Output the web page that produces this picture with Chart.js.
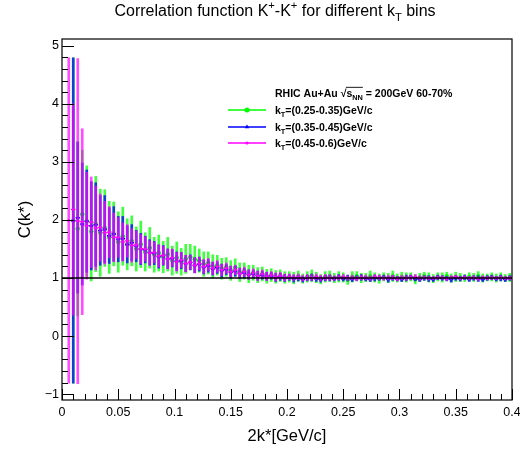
<!DOCTYPE html>
<html>
<head>
<meta charset="utf-8">
<script src="https://cdn.jsdelivr.net/npm/chart.js@4.4.0/dist/chart.umd.min.js"></script>
<style>
  body { margin: 0; background: #fff; }
</style>
</head>
<body>
<canvas id="chart" width="520" height="450"></canvas>
<script>
const FONT = '"Liberation Sans", Arial, Helvetica, sans-serif';

// histogram binning: 100 bins of 0.004 on [0, 0.4]
const binWidth = 0.004;
const xTicks = [0, 0.05, 0.1, 0.15, 0.2, 0.25, 0.3, 0.35, 0.4];
const yTicks = [-1, 0, 1, 2, 3, 4, 5];
const refLevel = 1;

const ktBins = ["(0.25-0.35)GeV/c", "(0.35-0.45)GeV/c", "(0.45-0.6)GeV/c"];

// kT = 0.25-0.35 (green)
const cGreen = [
  null, null, 1.99, 1.85, 2.10, 1.98, 1.80, 1.93, 1.78, 1.86,
  1.70, 1.76, 1.62, 1.72, 1.58, 1.64, 1.50, 1.58, 1.45, 1.52,
  1.40, 1.43, 1.36, 1.41, 1.30, 1.35, 1.28, 1.33, 1.36, 1.32,
  1.30, 1.24, 1.26, 1.20, 1.22, 1.16, 1.19, 1.13, 1.18, 1.10,
  1.12, 1.07, 1.09, 1.05, 1.07, 1.03, 1.05, 1.02, 1.04, 1.01,
  1.02, 1.00, 1.03, 0.99, 1.02, 1.04, 1.01, 0.98, 1.02, 1.03,
  1.00, 1.02, 1.01, 0.97, 1.02, 1.03, 1.00, 1.01, 1.03, 1.01,
  0.99, 1.02, 1.00, 1.03, 1.00, 1.02, 1.01, 1.02, 0.98, 1.01,
  1.03, 1.01, 0.99, 1.02, 1.01, 1.03, 1.00, 1.02, 1.01, 1.00,
  1.02, 1.01, 1.03, 1.00, 1.01, 1.02, 1.00, 1.02, 1.00, 1.01
];
const eGreen = [
  null, null, 2.80, 1.50, 1.10, 0.95, 0.85, 0.82, 0.75, 0.66,
  0.62, 0.55, 0.52, 0.50, 0.44, 0.43, 0.38, 0.40, 0.33, 0.35,
  0.30, 0.31, 0.27, 0.29, 0.25, 0.27, 0.23, 0.25, 0.22, 0.23,
  0.20, 0.21, 0.19, 0.20, 0.17, 0.18, 0.16, 0.17, 0.15, 0.16,
  0.14, 0.15, 0.13, 0.13, 0.12, 0.12, 0.11, 0.11, 0.10, 0.10,
  0.09, 0.10, 0.09, 0.08, 0.09, 0.10, 0.09, 0.08, 0.09, 0.09,
  0.08, 0.09, 0.08, 0.08, 0.09, 0.08, 0.08, 0.07, 0.09, 0.08,
  0.08, 0.07, 0.08, 0.09, 0.07, 0.08, 0.08, 0.07, 0.08, 0.07,
  0.07, 0.08, 0.07, 0.07, 0.08, 0.07, 0.07, 0.08, 0.07, 0.06,
  0.07, 0.07, 0.08, 0.07, 0.06, 0.07, 0.07, 0.07, 0.06, 0.07
];

// kT = 0.35-0.45 (blue)
const cBlue = [
  null, null, 1.99, 2.04, 1.93, 1.98, 1.90, 1.92, 1.82, 1.84,
  1.73, 1.76, 1.67, 1.68, 1.58, 1.61, 1.55, 1.50, 1.49, 1.44,
  1.43, 1.37, 1.39, 1.33, 1.34, 1.29, 1.30, 1.25, 1.27, 1.22,
  1.24, 1.19, 1.21, 1.16, 1.18, 1.13, 1.15, 1.10, 1.12, 1.08,
  1.09, 1.06, 1.07, 1.04, 1.05, 1.03, 1.04, 1.01, 1.02, 1.00,
  1.01, 0.99, 1.00, 0.98, 1.00, 1.01, 0.99, 0.98, 1.00, 1.00,
  0.99, 1.01, 0.99, 1.00, 0.98, 1.00, 1.01, 0.99, 0.98, 1.00,
  1.00, 1.01, 0.98, 1.00, 0.99, 0.98, 1.00, 1.01, 0.99, 0.98,
  1.00, 0.99, 0.98, 1.01, 1.00, 0.99, 0.98, 1.00, 0.99, 1.01,
  0.98, 1.00, 0.99, 0.98, 1.00, 1.01, 0.99, 1.00, 0.98, 1.00
];
const eBlue = [
  null, null, 2.80, 1.30, 1.05, 0.88, 0.76, 0.72, 0.60, 0.58,
  0.48, 0.47, 0.39, 0.38, 0.32, 0.31, 0.27, 0.27, 0.23, 0.22,
  0.20, 0.20, 0.17, 0.17, 0.15, 0.16, 0.14, 0.14, 0.13, 0.13,
  0.12, 0.12, 0.11, 0.11, 0.10, 0.11, 0.09, 0.10, 0.09, 0.09,
  0.08, 0.08, 0.07, 0.08, 0.07, 0.07, 0.06, 0.07, 0.06, 0.06,
  0.05, 0.06, 0.05, 0.05, 0.05, 0.06, 0.05, 0.05, 0.05, 0.05,
  0.04, 0.05, 0.04, 0.05, 0.04, 0.04, 0.05, 0.04, 0.04, 0.05,
  0.04, 0.04, 0.05, 0.04, 0.04, 0.04, 0.05, 0.04, 0.04, 0.04,
  0.04, 0.05, 0.04, 0.04, 0.04, 0.04, 0.05, 0.04, 0.04, 0.04,
  0.04, 0.04, 0.05, 0.04, 0.04, 0.04, 0.04, 0.05, 0.04, 0.04
];

// kT = 0.45-0.6 (magenta)
const cMagenta = [
  null, 1.99, 2.18, 1.98, 1.97, 1.90, 1.96, 1.86, 1.87, 1.78,
  1.79, 1.70, 1.70, 1.62, 1.64, 1.56, 1.57, 1.50, 1.50, 1.43,
  1.44, 1.38, 1.39, 1.33, 1.35, 1.28, 1.31, 1.25, 1.27, 1.22,
  1.25, 1.20, 1.23, 1.17, 1.20, 1.14, 1.17, 1.11, 1.14, 1.08,
  1.11, 1.06, 1.09, 1.04, 1.07, 1.03, 1.05, 1.02, 1.04, 1.01,
  1.02, 1.01, 1.02, 1.00, 1.01, 1.01, 1.02, 1.00, 1.01, 1.01,
  1.00, 1.01, 1.02, 1.00, 1.01, 0.99, 1.01, 1.01, 1.00, 1.02,
  1.01, 1.00, 1.01, 1.01, 0.99, 1.01, 1.00, 1.01, 1.02, 1.00,
  1.01, 1.00, 1.00, 1.01, 1.01, 0.99, 1.01, 1.02, 1.00, 1.01,
  1.00, 1.01, 0.99, 1.01, 1.00, 1.01, 1.00, 1.01, 1.00, 1.00
];
const eMagenta = [
  null, 2.80, 1.82, 2.80, 1.60, 0.92, 0.78, 0.72, 0.58, 0.54,
  0.44, 0.42, 0.34, 0.33, 0.28, 0.29, 0.24, 0.25, 0.21, 0.21,
  0.18, 0.19, 0.16, 0.17, 0.15, 0.16, 0.13, 0.14, 0.12, 0.13,
  0.11, 0.12, 0.11, 0.11, 0.10, 0.10, 0.09, 0.10, 0.08, 0.09,
  0.08, 0.08, 0.07, 0.08, 0.07, 0.07, 0.06, 0.07, 0.06, 0.06,
  0.05, 0.05, 0.05, 0.05, 0.05, 0.05, 0.05, 0.05, 0.05, 0.05,
  0.04, 0.04, 0.04, 0.04, 0.04, 0.04, 0.04, 0.04, 0.04, 0.04,
  0.04, 0.04, 0.04, 0.04, 0.04, 0.04, 0.04, 0.04, 0.04, 0.04,
  0.03, 0.03, 0.03, 0.03, 0.03, 0.03, 0.03, 0.03, 0.03, 0.03,
  0.03, 0.03, 0.03, 0.03, 0.03, 0.03, 0.03, 0.03, 0.03, 0.03
];

function center(i) { return (i + 0.5) * binWidth; }

function points(vals) {
  return vals.map((v, i) => v === null ? null : { x: center(i), y: v }).filter(Boolean);
}
function errBars(vals, errs) {
  return vals.map((v, i) => v === null ? null : { x: center(i), y: [v - errs[i], v + errs[i]] }).filter(Boolean);
}

const series = [
  { vals: cGreen, errs: eGreen, color: "#00ff00", bar: "rgba(0,255,0,0.75)", marker: "circle", r: 2.2 },
  { vals: cBlue, errs: eBlue, color: "#0000ff", bar: "rgba(0,0,255,0.75)", marker: "triangle", r: 2.3 },
  { vals: cMagenta, errs: eMagenta, color: "#ff00ff", bar: "rgba(255,0,255,0.7)", marker: "circle", r: 1.3 }
];

const datasets = [];
series.forEach((s, k) => {
  const base = (series.length - k) * 3;
  const pts = points(s.vals);
  datasets.push({
    type: "bar", data: errBars(s.vals, s.errs), backgroundColor: s.bar,
    borderWidth: 0, barThickness: 2, grouped: false, order: base + 2
  });
  datasets.push({
    type: "scatter", data: pts, pointStyle: "line", pointRadius: binWidth / 2 * 1125,
    borderColor: s.color, borderWidth: 1.2, order: base + 1
  });
  datasets.push({
    type: "scatter", data: pts, pointStyle: s.marker, pointRadius: s.r,
    backgroundColor: s.color, borderColor: s.color, borderWidth: 0, order: base
  });
});
datasets.push({
  type: "line", data: [{ x: xTicks[0], y: refLevel }, { x: xTicks[xTicks.length - 1], y: refLevel }],
  borderColor: "#000", borderWidth: 1.3, pointRadius: 0, order: 0
});

function runFont(r, size, bold) {
  const s = (r.sub || r.sup) ? size * 0.7 : size;
  return (bold ? "bold " : "") + s + "px " + FONT;
}
function runsWidth(ctx, runs, size, bold) {
  let w = 0;
  runs.forEach(r => { ctx.font = runFont(r, size, bold); w += ctx.measureText(r.t).width; });
  return w;
}
function drawRuns(ctx, runs, x, y, size, bold) {
  runs.forEach(r => {
    ctx.font = runFont(r, size, bold);
    const dy = r.sub ? size * 0.3 : r.sup ? -size * 0.42 : 0;
    ctx.fillText(r.t, x, y + dy);
    x += ctx.measureText(r.t).width;
  });
  return x;
}

const decorations = {
  id: "decorations",
  afterDatasetsDraw(chart) {
    const { ctx, chartArea: a, scales: { x, y } } = chart;
    ctx.save();
    ctx.strokeStyle = "#000";
    ctx.lineWidth = 1;
    ctx.beginPath();
    for (let k = 0; k <= 40; k++) {
      const px = Math.round(x.getPixelForValue(k * 0.01)) + 0.5;
      ctx.moveTo(px, a.bottom);
      ctx.lineTo(px, a.bottom - (k % 5 === 0 ? 11 : 6));
    }
    for (let k = -5; k <= 25; k++) {
      const py = Math.round(y.getPixelForValue(k * 0.2)) + 0.5;
      ctx.moveTo(a.left, py);
      ctx.lineTo(a.left + (k % 5 === 0 ? 12 : 6), py);
    }
    ctx.stroke();
    ctx.lineWidth = 1.2;
    ctx.strokeRect(a.left, a.top, a.right - a.left, a.bottom - a.top);
    ctx.restore();
  },
  afterDraw(chart) {
    const { ctx, chartArea: a } = chart;
    ctx.save();
    ctx.fillStyle = "#000";
    ctx.textBaseline = "alphabetic";

    // title
    const title = [
      { t: "Correlation function K" }, { t: "+", sup: true }, { t: "-K" }, { t: "+", sup: true },
      { t: " for different k" }, { t: "T", sub: true }, { t: " bins" }
    ];
    const tw = runsWidth(ctx, title, 16, false);
    drawRuns(ctx, title, 275 - tw / 2, 16, 16, false);

    // axis titles
    ctx.font = "16.5px " + FONT;
    ctx.textAlign = "center";
    ctx.fillText("2k*[GeV/c]", (a.left + a.right) / 2, 441);
    ctx.save();
    ctx.translate(30, (a.top + a.bottom) / 2);
    ctx.rotate(-Math.PI / 2);
    ctx.fillText("C(k*)", 0, 0);
    ctx.restore();
    ctx.textAlign = "left";

    // legend header
    const fs = 10.5;
    let lx = drawRuns(ctx, [{ t: "RHIC Au+Au " }], 275, 97, fs, true);
    ctx.font = "bold " + fs + "px " + FONT;
    ctx.fillText("\u221a", lx, 97);
    lx += ctx.measureText("\u221a").width;
    const sx = lx;
    lx = drawRuns(ctx, [{ t: "s" }, { t: "NN", sub: true }], lx, 97, fs, true);
    ctx.strokeStyle = "#000";
    ctx.lineWidth = 0.9;
    ctx.beginPath();
    ctx.moveTo(sx - 0.5, 97 - fs * 0.92);
    ctx.lineTo(lx, 97 - fs * 0.92);
    ctx.stroke();
    drawRuns(ctx, [{ t: " = 200GeV 60-70%" }], lx, 97, fs, true);

    // legend entries
    const rows = [110, 127, 143];
    series.forEach((s, k) => {
      const cy = rows[k];
      ctx.strokeStyle = s.color;
      ctx.fillStyle = s.color;
      ctx.lineWidth = 1.5;
      ctx.beginPath();
      ctx.moveTo(228, cy);
      ctx.lineTo(266, cy);
      ctx.stroke();
      Chart.helpers.drawPoint(ctx, { pointStyle: s.marker, radius: s.r + 0.3, borderWidth: 0, rotation: 0 }, 247, cy);
      ctx.fillStyle = "#000";
      drawRuns(ctx, [{ t: "k" }, { t: "T", sub: true }, { t: "=" + ktBins[k] }], 275, cy + 4, fs, true);
    });
    ctx.restore();
  }
};

const config = {
  type: "scatter",
  data: { datasets: datasets },
  options: {
    responsive: false,
    animation: false,
    events: [],
    layout: { padding: { top: 39, right: 8, left: 0, bottom: 0 } },
    plugins: { legend: { display: false }, tooltip: { enabled: false } },
    scales: {
      x: {
        type: "linear", min: 0, max: 0.4, offset: false,
        grid: { display: false, drawTicks: false },
        border: { display: false },
        ticks: {
          padding: 5, color: "#000", maxRotation: 0, autoSkip: false,
          font: { family: FONT, size: 12.5 },
          callback: v => String(+v.toFixed(2))
        },
        afterBuildTicks: s => { s.ticks = xTicks.map(v => ({ value: v })); },
        afterFit: s => { s.height = 50; s.paddingLeft = 0; s.paddingRight = 0; }
      },
      y: {
        type: "linear", min: -1.1, max: 5.115,
        grid: { display: false, drawTicks: false },
        border: { display: false },
        ticks: {
          padding: 3, color: "#000",
          font: { family: FONT, size: 12.5 },
          callback: v => v < 0 ? "\u2212" + Math.abs(v) : String(v)
        },
        afterBuildTicks: s => { s.ticks = yTicks.map(v => ({ value: v })); },
        afterFit: s => { s.width = 62; s.paddingTop = 0; s.paddingBottom = 0; }
      }
    }
  },
  plugins: [decorations]
};

const chart = new Chart(document.getElementById("chart").getContext("2d"), config);
</script>
</body>
</html>
